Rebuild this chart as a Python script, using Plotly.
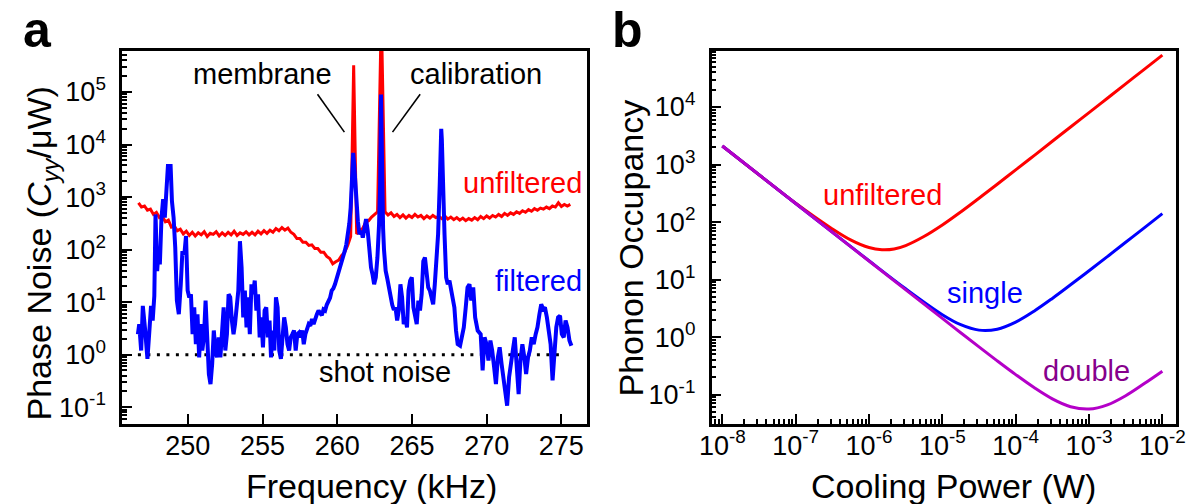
import numpy as np
import plotly.graph_objects as go

# ---------------- Panel a : phase noise spectra ----------------
# frequencies in kHz, values stored as log10(C_yy/uW)
red_freq = [246.7, 246.9, 247.1, 247.3, 247.5, 247.7, 247.9, 248.1, 248.3, 248.5,
            248.7, 248.9, 249.1, 249.3, 249.5, 249.7, 249.9, 250.1, 250.3, 250.5,
            250.7, 250.9, 251.1, 251.3, 251.5, 251.7, 251.9, 252.1, 252.3, 252.5,
            252.7, 252.9, 253.1, 253.3, 253.5, 253.7, 253.9, 254.1, 254.3, 254.5,
            254.7, 254.9, 255.1, 255.3, 255.5, 255.7, 255.9, 256.1, 256.3, 256.5,
            256.7, 256.9, 257.1, 257.3, 257.5, 257.7, 257.9, 258.1, 258.3, 258.5,
            258.7, 258.9, 259.1, 259.3, 259.5, 259.7, 259.9, 260.1, 260.3, 260.5,
            260.7, 260.9, 261.1, 261.3, 261.5, 261.7, 261.9, 262.1, 262.3, 262.5,
            262.7, 262.95, 263.2, 263.4, 263.6, 263.8, 264.0, 264.2, 264.4, 264.6,
            264.8, 265.0, 265.2, 265.4, 265.6, 265.8, 266.0, 266.2, 266.4, 266.6,
            266.8, 267.0, 267.2, 267.4, 267.6, 267.8, 268.0, 268.2, 268.4, 268.6,
            268.8, 269.0, 269.2, 269.4, 269.6, 269.8, 270.0, 270.2, 270.4, 270.6,
            270.8, 271.0, 271.2, 271.4, 271.6, 271.8, 272.0, 272.2, 272.4, 272.6,
            272.8, 273.0, 273.2, 273.4, 273.6, 273.8, 274.0, 274.2, 274.4, 274.6,
            274.8, 275.0, 275.2, 275.4, 275.6]
red_log = [2.89, 2.81, 2.83, 2.75, 2.77, 2.67, 2.71, 2.61, 2.63, 2.53,
           2.56, 2.43, 2.45, 2.36, 2.39, 2.30, 2.35, 2.27, 2.33, 2.26,
           2.32, 2.28, 2.34, 2.25, 2.31, 2.29, 2.34, 2.26, 2.32, 2.27,
           2.33, 2.28, 2.35, 2.27, 2.32, 2.29, 2.34, 2.28, 2.33, 2.28,
           2.35, 2.30, 2.36, 2.31, 2.37, 2.33, 2.40, 2.36, 2.42, 2.37,
           2.41, 2.33, 2.29, 2.21, 2.21, 2.14, 2.14, 2.08, 2.09, 2.02,
           2.02, 1.95, 1.95, 1.87, 1.83, 1.73, 1.77, 1.80, 1.89, 1.95,
           2.08, 2.25, 5.51, 2.30, 2.36, 2.40, 2.52, 2.55, 2.62, 2.68,
           2.72, 6.50, 2.72, 2.66, 2.70, 2.63, 2.67, 2.61, 2.66, 2.60,
           2.65, 2.61, 2.67, 2.62, 2.65, 2.59, 2.64, 2.60, 2.65, 2.61,
           2.63, 2.59, 2.64, 2.58, 2.62, 2.57, 2.61, 2.56, 2.60, 2.55,
           2.59, 2.56, 2.61, 2.57, 2.63, 2.59, 2.64, 2.60, 2.65, 2.62,
           2.67, 2.63, 2.69, 2.65, 2.70, 2.67, 2.72, 2.69, 2.74, 2.71,
           2.76, 2.73, 2.78, 2.75, 2.79, 2.77, 2.81, 2.78, 2.83, 2.81,
           2.89, 2.82, 2.86, 2.83, 2.86]

blue_freq = [246.66, 246.75, 246.88, 246.99, 247.14, 247.30, 247.43, 247.54, 247.65, 247.76,
             247.84, 247.95, 248.04, 248.13, 248.24, 248.35, 248.46, 248.57, 248.67, 248.85,
             248.94, 249.05, 249.16, 249.27, 249.40, 249.53, 249.64, 249.77, 249.88, 249.99,
             250.10, 250.21, 250.32, 250.43, 250.54, 250.65, 250.76, 250.87, 250.97, 251.08,
             251.19, 251.30, 251.41, 251.52, 251.63, 251.74, 251.85, 251.96, 252.07, 252.18,
             252.29, 252.40, 252.51, 252.62, 252.73, 252.84, 252.95, 253.06, 253.16, 253.27,
             253.38, 253.49, 253.60, 253.71, 253.82, 253.93, 254.04, 254.15, 254.26, 254.37,
             254.48, 254.59, 254.70, 254.81, 254.92, 255.03, 255.14, 255.25, 255.36, 255.47,
             255.57, 255.68, 255.79, 255.90, 256.01, 256.12, 256.23, 256.34, 256.45, 256.56,
             256.67, 256.78, 256.89, 257.00, 257.11, 257.22, 257.33, 257.44, 257.55, 257.66,
             257.76, 257.87, 257.98, 258.09, 258.20, 258.31, 258.42, 258.53, 258.64, 258.75,
             258.86, 258.97, 259.08, 259.19, 259.30, 259.41, 259.52, 259.63, 259.74, 259.85,
             259.96, 260.07, 260.18, 260.28, 260.39, 260.50, 260.61, 260.72, 260.81, 260.90,
             261.01, 261.07, 261.14, 261.18, 261.27, 261.38, 261.49, 261.60, 261.71, 261.82,
             261.93, 262.04, 262.15, 262.26, 262.36, 262.47, 262.58, 262.69, 262.80, 262.87,
             262.93, 263.00, 263.07, 263.13, 263.24, 263.35, 263.46, 263.57, 263.68, 263.79,
             263.90, 264.01, 264.12, 264.23, 264.34, 264.45, 264.56, 264.67, 264.77, 264.88,
             264.99, 265.10, 265.21, 265.32, 265.43, 265.54, 265.65, 265.76, 265.87, 265.98,
             266.09, 266.20, 266.31, 266.42, 266.53, 266.64, 266.75, 266.86, 266.92, 266.96,
             267.00, 267.07, 267.18, 267.29, 267.40, 267.51, 267.62, 267.73, 267.84, 267.95,
             268.06, 268.22, 268.35, 268.47, 268.60, 268.72, 268.85, 268.97, 269.10, 269.23,
             269.40, 269.60, 269.73, 269.86, 269.99, 270.12, 270.25, 270.37, 270.50, 270.62,
             270.75, 270.87, 271.00, 271.12, 271.25, 271.37, 271.50, 271.63, 271.75, 271.88,
             272.01, 272.14, 272.26, 272.39, 272.52, 272.64, 272.77, 272.89, 273.02, 273.15,
             273.28, 273.40, 273.53, 273.65, 273.78, 273.90, 274.03, 274.16, 274.28, 274.41,
             274.53, 274.66, 274.78, 274.91, 275.03, 275.16, 275.28, 275.41, 275.54, 275.67]
blue_log = [0.39, 0.58, 0.08, 0.93, 0.49, -0.08, 0.46, 0.93, 0.65, 1.12,
            2.67, 1.59, 1.97, 1.72, 2.61, 2.96, 2.61, 3.18, 3.59, 3.59,
            2.92, 2.61, 2.04, 1.03, 0.77, 1.34, 1.97, 1.91, 2.26, 1.22,
            1.09, 1.15, 0.39, 0.90, 0.20, 0.77, -0.05, 0.58, 0.08, 0.33,
            1.03, 0.33, -0.37, -0.56, -0.18, 0.46, 0.08, -0.05, 0.33, -0.05,
            0.52, 0.90, 0.08, 0.39, 1.15, 1.09, 0.65, 0.39, 0.58, 0.90,
            1.22, 2.16, 1.66, 0.71, 1.22, 0.52, 1.09, 0.39, 1.34, 1.15,
            1.41, 0.84, 1.15, 0.33, 0.71, 0.14, 0.84, 0.90, 0.33, 0.65,
            -0.05, 0.46, 0.08, 1.09, 0.90, 0.08, -0.08, 0.33, 0.71, 0.52,
            0.20, 0.08, 0.33, 0.39, 0.46, 0.08, 0.39, 0.42, 0.33, 0.46,
            0.20, 0.39, 0.52, 0.58, 0.55, 0.68, 0.58, 0.71, 0.77, 0.84,
            0.80, 0.75, 0.86, 0.84, 0.95, 1.03, 1.08, 1.22, 1.26, 1.34,
            1.44, 1.53, 1.62, 1.72, 1.82, 1.97, 2.10, 2.29, 2.50, 2.80,
            3.49, 3.84, 3.60, 3.37, 2.86, 2.54, 2.29, 2.36, 2.23, 2.48,
            2.58, 2.36, 1.97, 1.66, 1.53, 1.34, 1.47, 1.85, 2.48, 3.24,
            4.95, 3.24, 2.40, 2.00, 1.60, 1.45, 1.25, 1.05, 0.95, 0.85,
            0.90, 0.65, 0.84, 1.34, 1.09, 0.58, 0.71, 0.52, 1.22, 1.41,
            1.47, 0.90, 0.71, 0.58, 1.03, 0.84, 1.15, 1.78, 1.85, 1.47,
            1.28, 1.22, 1.09, 0.96, 1.34, 1.78, 2.29, 3.24, 4.10, 4.30,
            4.10, 3.24, 2.29, 1.47, 1.34, 1.41, 1.22, 1.03, 0.90, 0.46,
            0.20, 0.17, 0.40, 0.52, 0.90, 1.28, 1.34, 1.03, 1.28, 0.71,
            0.46, 0.39, -0.30, 0.33, 0.20, -0.11, 0.27, 0.08, -0.24, -0.56,
            -0.05, 0.14, -0.18, -0.43, -0.68, -0.97, -0.43, -0.11, 0.08, 0.33,
            -0.18, -0.75, -0.11, 0.20, -0.05, -0.37, -0.05, 0.08, 0.33, 0.20,
            0.39, 0.52, 0.77, 0.96, 0.87, 0.90, 0.71, 0.46, 0.20, -0.49,
            0.14, 0.52, 0.71, 0.74, 0.39, 0.33, 0.65, 0.52, 0.27, 0.17]

shot_freq = [246.66, 274.9]
shot_level = [1.0, 1.0]

freq_ticks = [250, 255, 260, 265, 270, 275]
noise_ticks = [1e-1, 1e0, 1e1, 1e2, 1e3, 1e4, 1e5]
noise_ticktext = ["10<sup>-1</sup>", "10<sup>0</sup>", "10<sup>1</sup>", "10<sup>2</sup>",
                  "10<sup>3</sup>", "10<sup>4</sup>", "10<sup>5</sup>"]

# ---------------- Panel b : phonon occupancy ----------------
unf_power = [1e-8, 3.16e-8, 1e-7, 3.16e-7, 5.6e-7, 1e-6, 1.5e-6, 2.2e-6, 3.16e-6,
             5.6e-6, 1e-5, 1.78e-5, 3.16e-5, 5.6e-5, 1e-4, 1.78e-4, 3.16e-4, 5.6e-4,
             1e-3, 1.78e-3, 3.16e-3, 5.6e-3, 1e-2]
unf_n = [2100, 665, 212, 76, 49, 36, 33, 34, 39, 56, 89, 150, 260, 455, 807, 1430,
         2540, 4490, 8000, 14200, 25300, 44800, 80000]

single_power = [1e-8, 1e-7, 1e-6, 3.16e-6, 1e-5, 1.78e-5, 3.16e-5, 5.6e-5, 1e-4,
                1.78e-4, 3.16e-4, 5.6e-4, 1e-3, 1.78e-3, 3.16e-3, 5.6e-3, 1e-2]
single_n = [2100, 210, 21.2, 6.9, 2.45, 1.64, 1.32, 1.37, 1.82, 2.82, 4.7, 8.1, 14.2,
            25.1, 44.5, 78.6, 140]

double_power = [1e-8, 1e-7, 1e-6, 1e-5, 1.78e-5, 3.16e-5, 5.6e-5, 1e-4, 1.78e-4,
                3.16e-4, 5.6e-4, 1e-3, 1.78e-3, 3.16e-3, 5.6e-3, 1e-2]
double_n = [2100, 210, 21, 2.11, 1.19, 0.675, 0.386, 0.2225, 0.1325, 0.0843, 0.0615,
            0.056, 0.0663, 0.0956, 0.1538, 0.255]

power_ticks = [1e-8, 1e-7, 1e-6, 1e-5, 1e-4, 1e-3, 1e-2]
power_ticktext = ["10<sup>-8</sup>", "10<sup>-7</sup>", "10<sup>-6</sup>", "10<sup>-5</sup>",
                  "10<sup>-4</sup>", "10<sup>-3</sup>", "10<sup>-2</sup>"]
occ_ticks = [1e-1, 1e0, 1e1, 1e2, 1e3, 1e4]
occ_ticktext = ["10<sup>-1</sup>", "10<sup>0</sup>", "10<sup>1</sup>", "10<sup>2</sup>",
                "10<sup>3</sup>", "10<sup>4</sup>"]

RED = "#FF0000"
BLUE = "#0000FF"
PURPLE = "#B400C8"
PURPLE_TXT = "#86008C"
FONT = "Liberation Sans, Arial, Helvetica, sans-serif"

W, H = 1202, 504


def px(x):
    return x / W


def py(y):
    return 1 - y / H


def minor_vals(lo, hi):
    out = []
    for e in range(lo, hi + 1):
        for k in range(2, 10):
            out.append(k * 10.0 ** e)
    return out


fig = go.Figure()

# panel a
fig.add_trace(go.Scatter(x=red_freq, y=np.power(10.0, red_log), mode="lines",
                         line=dict(color=RED, width=3), xaxis="x", yaxis="y",
                         hoverinfo="skip"))
fig.add_trace(go.Scatter(x=shot_freq, y=shot_level, mode="lines",
                         line=dict(color="black", width=3, dash="3px,6.5px"),
                         xaxis="x", yaxis="y", hoverinfo="skip"))
fig.add_trace(go.Scatter(x=blue_freq, y=np.power(10.0, blue_log), mode="lines",
                         line=dict(color=BLUE, width=4), xaxis="x", yaxis="y",
                         hoverinfo="skip"))

# panel b
fig.add_trace(go.Scatter(x=unf_power, y=unf_n, mode="lines", line_shape="spline",
                         line=dict(color=RED, width=3), xaxis="x2", yaxis="y2"))
fig.add_trace(go.Scatter(x=single_power, y=single_n, mode="lines", line_shape="spline",
                         line=dict(color=BLUE, width=3), xaxis="x2", yaxis="y2"))
fig.add_trace(go.Scatter(x=double_power, y=double_n, mode="lines", line_shape="spline",
                         line=dict(color=PURPLE, width=3), xaxis="x2", yaxis="y2"))

ydom = [py(423.5), py(50.5)]
axis_common = dict(showline=True, linecolor="black", linewidth=2.5, mirror=True,
                   showgrid=False, zeroline=False, ticks="inside", ticklen=10,
                   tickwidth=2, tickcolor="black",
                   tickfont=dict(family=FONT, size=27, color="black"))
minor_common = dict(ticks="inside", ticklen=5, tickwidth=1.5, tickcolor="black",
                    showgrid=False, tickmode="array")

fig.update_layout(
    width=W, height=H,
    margin=dict(l=0, r=0, t=0, b=0),
    paper_bgcolor="white", plot_bgcolor="white",
    showlegend=False,
    font=dict(family=FONT, color="black"),
    xaxis=dict(domain=[px(112), px(585)], anchor="y", range=[245.6, 276.7],
               tickmode="array", tickvals=freq_ticks, ticklabelstandoff=-4,
               **axis_common),
    yaxis=dict(domain=ydom, anchor="x", type="log", range=[-1.31, 5.79],
               tickmode="array", tickvals=noise_ticks, ticktext=noise_ticktext,
               minor=dict(tickvals=minor_vals(-2, 5), **minor_common),
               ticklabelstandoff=8, **axis_common),
    xaxis2=dict(domain=[px(712), px(1185)], anchor="y2", type="log",
                range=[-8.147, -1.81], tickmode="array", tickvals=power_ticks,
                ticktext=power_ticktext,
                minor=dict(tickvals=minor_vals(-9, -2), **minor_common),
                ticklabelstandoff=-4, **axis_common),
    yaxis2=dict(domain=ydom, anchor="x2", type="log", range=[-1.503, 4.983],
                tickmode="array", tickvals=occ_ticks, ticktext=occ_ticktext,
                minor=dict(tickvals=minor_vals(-2, 4), **minor_common),
                ticklabelstandoff=8, **axis_common),
)

# pointer lines (shape coordinates are data values on the log axis)
fig.add_shape(type="line", xref="x", yref="y", x0=258.68, y0=10 ** 4.957,
              x1=260.48, y1=10 ** 4.236, line=dict(color="black", width=1.6))
fig.add_shape(type="line", xref="x", yref="y", x0=265.55, y0=10 ** 4.957,
              x1=263.7, y1=10 ** 4.236, line=dict(color="black", width=1.6))

ann = []


def txt(text, x, y, xref, yref, size, color="black", angle=0, bold=False):
    ann.append(dict(text=("<b>%s</b>" % text) if bold else text, x=x, y=y,
                    xref=xref, yref=yref, showarrow=False, textangle=angle,
                    xanchor="center", yanchor="middle",
                    font=dict(family=FONT, size=size, color=color)))


# panel a labels (annotation y in log10 units)
txt("membrane", 254.97, 5.34, "x", "y", 29)
txt("calibration", 269.28, 5.34, "x", "y", 29)
txt("unfiltered", 272.4, 3.26, "x", "y", 29, RED)
txt("filtered", 273.5, 1.41, "x", "y", 29, BLUE)
txt("shot noise", 263.2, -0.33, "x", "y", 29)
# panel b labels
txt("unfiltered", -5.82, 2.47, "x2", "y2", 29, RED)
txt("single", -4.42, 0.76, "x2", "y2", 29, BLUE)
txt("double", -3.04, -0.59, "x2", "y2", 29, PURPLE_TXT)

# axis titles and panel letters
txt("Frequency (kHz)", px(366), py(486), "paper", "paper", 34)
txt("Cooling Power (W)", px(958), py(486), "paper", "paper", 34)
txt("Phase Noise (<i>C</i><sub><i>yy</i></sub>/μW)", px(30), py(253), "paper", "paper", 34, angle=-90)
txt("Phonon Occupancy", px(630), py(247.5), "paper", "paper", 34, angle=-90)
txt("a", px(26), py(30), "paper", "paper", 50, bold=True)
txt("b", px(626), py(30), "paper", "paper", 50, bold=True)

fig.update_layout(annotations=ann)

fig.write_html("out.html", config={"displayModeBar": False},
               post_script="document.body.style.margin='0px';")
